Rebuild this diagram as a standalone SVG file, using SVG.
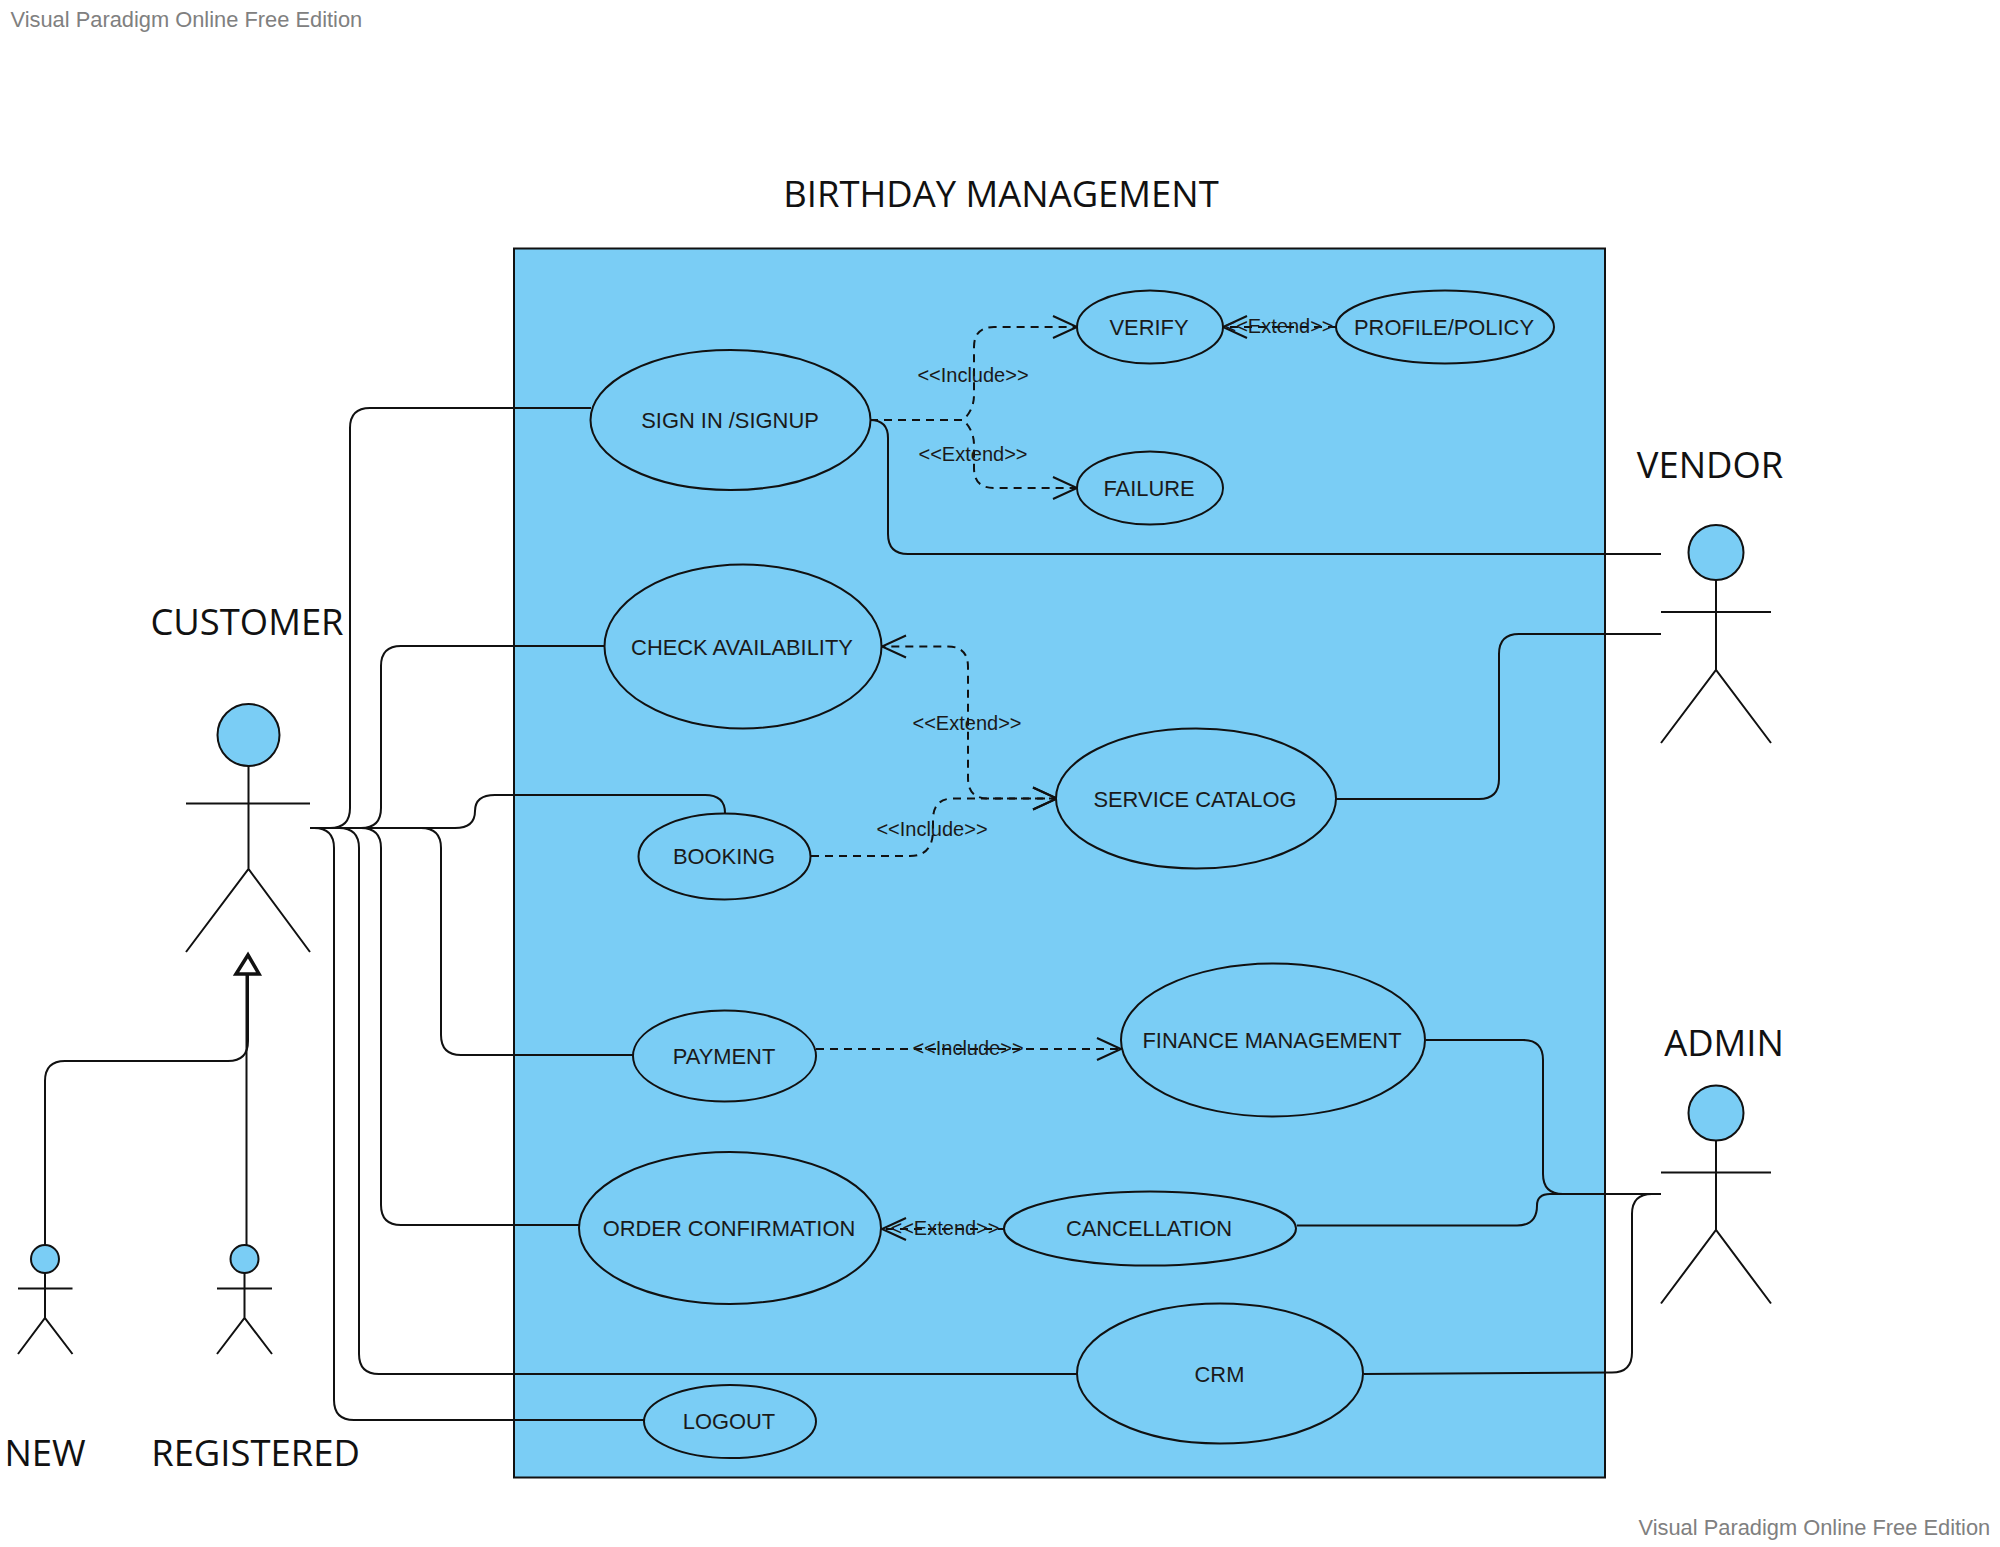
<svg xmlns="http://www.w3.org/2000/svg" width="2000" height="1547" viewBox="0 0 2000 1547">
<style>
.u{fill:#7acdf5;stroke:#111;stroke-width:2}
.l{fill:none;stroke:#111;stroke-width:2}
.d{fill:none;stroke:#111;stroke-width:2;stroke-dasharray:8 6}
.t{font-family:"Liberation Sans",Arial,sans-serif;font-size:21.900px;fill:#1a1a1a;text-anchor:middle;dominant-baseline:central}
.s{font-family:"Liberation Sans",Arial,sans-serif;font-size:20px;fill:#1a1a1a;text-anchor:middle;dominant-baseline:central}
.a{font-family:"Open Sans",sans-serif;font-size:36.400px;fill:#111;text-anchor:middle}
.w{font-family:"Liberation Sans",Arial,sans-serif;font-size:21.850px;fill:#808080}
</style>
<defs>
<marker id="o" markerUnits="userSpaceOnUse" markerWidth="30" markerHeight="30" refX="25" refY="13" orient="auto-start-reverse"><path d="M1,2 L25,13 L1,24" fill="none" stroke="#111" stroke-width="2"/></marker>
</defs>
<text class="w" x="10.500" y="26.500">Visual Paradigm Online Free Edition</text>
<text class="w" x="1638.500" y="1534.500">Visual Paradigm Online Free Edition</text>
<g id="system"><rect x="514" y="248.500" width="1091" height="1229" fill="#7acdf5" stroke="#111" stroke-width="2"/>
<text class="a" x="1001" y="207">BIRTHDAY MANAGEMENT</text></g>
<g id="connectors">
<path class="l" d="M310,828 H330 Q350,828 350,808 V428 Q350,408 370,408 H591"/>
<path class="l" d="M310,828 H361 Q381,828 381,808 V666 Q381,646 401,646 H605"/>
<path class="l" d="M310,828 H455 Q475,828 475,811 Q475,795 495,795 H705 Q725,795 725,813"/>
<path class="l" d="M310,828 H421 Q441,828 441,848 V1035 Q441,1055 461,1055 H633"/>
<path class="l" d="M310,828 H361 Q381,828 381,848 V1205 Q381,1225 401,1225 H579"/>
<path class="l" d="M310,828 H339 Q359,828 359,848 V1354 Q359,1374 379,1374 H1078"/>
<path class="l" d="M310,828 H314 Q334,828 334,848 V1400 Q334,1420 354,1420 H645"/>
<path class="l" d="M870,420 Q888,420 888,438 V534 Q888,554 908,554 H1661"/>
<path class="l" d="M1336,799 H1479 Q1499,799 1499,779 V654 Q1499,634 1519,634 H1661"/>
<path class="l" d="M1426,1040 H1523 Q1543,1040 1543,1060 V1174 Q1543,1194 1563,1194 H1661"/>
<path class="l" d="M1297,1225.500 H1517 Q1537,1225.500 1537,1205.500 Q1537,1194 1550,1194 H1661"/>
<path class="l" d="M1364,1374 L1612,1372.500 Q1632,1372.500 1632,1352.500 V1214 Q1632,1194 1652,1194 H1661"/>
<path class="l" d="M45,1245 V1081 Q45,1061 65,1061 H228 Q248,1061 248,1041 V974"/>
<path class="l" d="M246.500,1245 V974"/>
<path d="M248,955 L259,974 L236,974 Z" fill="#fff" stroke="#111" stroke-width="3.500"/>
<path class="d" d="M870,420 H963 Q974,410 974,395 V347 Q974,327 994,327 H1077" marker-end="url(#o)"/>
<path class="d" d="M870,420 H963 Q974,430 974,445 V468 Q974,488 994,488 H1077" marker-end="url(#o)"/>
<path class="d" d="M1336,327 H1223" marker-end="url(#o)"/>
<path class="d" d="M1057,798.500 H988 Q968,798.500 968,778 V667 Q968,646.500 948,646.500 H882" marker-start="url(#o)" marker-end="url(#o)"/>
<path class="d" d="M811,856 H910 Q933,856 933,830 V820 Q933,798.500 953,798.500 H1057" marker-end="url(#o)"/>
<path class="d" d="M816,1049 H1121" marker-end="url(#o)"/>
<path class="d" d="M1006,1229 H882" marker-end="url(#o)"/>
</g>
<g id="sign-in"><ellipse class="u" cx="730.500" cy="420" rx="140" ry="70"/><text class="t" x="730" y="420">SIGN IN /SIGNUP</text></g>
<g id="verify"><ellipse class="u" cx="1150" cy="327" rx="73" ry="36.500"/><text class="t" x="1149" y="327">VERIFY</text></g>
<g id="profile"><ellipse class="u" cx="1445" cy="327" rx="109" ry="36.500"/><text class="t" x="1444" y="327">PROFILE/POLICY</text></g>
<g id="failure"><ellipse class="u" cx="1150" cy="488" rx="73" ry="36.500"/><text class="t" x="1149" y="488">FAILURE</text></g>
<g id="check"><ellipse class="u" cx="743" cy="646.500" rx="138.500" ry="82"/><text class="t" x="742" y="647">CHECK AVAILABILITY</text></g>
<g id="service"><ellipse class="u" cx="1196" cy="798.500" rx="140" ry="70"/><text class="t" x="1195" y="799">SERVICE CATALOG</text></g>
<g id="booking"><ellipse class="u" cx="724.500" cy="856.500" rx="86" ry="43"/><text class="t" x="724" y="856.500">BOOKING</text></g>
<g id="payment"><ellipse class="u" cx="724.500" cy="1056" rx="91.500" ry="45.500"/><text class="t" x="724" y="1056">PAYMENT</text></g>
<g id="finance"><ellipse class="u" cx="1273" cy="1040" rx="152" ry="76.500"/><text class="t" x="1272" y="1040">FINANCE MANAGEMENT</text></g>
<g id="order"><ellipse class="u" cx="730" cy="1228" rx="151" ry="76"/><text class="t" x="729" y="1228">ORDER CONFIRMATION</text></g>
<g id="cancellation"><ellipse class="u" cx="1150" cy="1228.500" rx="146" ry="37"/><text class="t" x="1149" y="1228.500">CANCELLATION</text></g>
<g id="crm"><ellipse class="u" cx="1220" cy="1373.500" rx="143" ry="70"/><text class="t" x="1219.500" y="1374">CRM</text></g>
<g id="logout"><ellipse class="u" cx="730" cy="1421.500" rx="86" ry="36.500"/><text class="t" x="729" y="1421.500">LOGOUT</text></g>
<g id="labels">
<text class="s" x="973" y="375">&lt;&lt;Include&gt;&gt;</text>
<text class="s" x="973" y="454">&lt;&lt;Extend&gt;&gt;</text>
<text class="s" x="1279" y="326">&lt;&lt;Extend&gt;&gt;</text>
<text class="s" x="967" y="723">&lt;&lt;Extend&gt;&gt;</text>
<text class="s" x="932" y="828.500">&lt;&lt;Include&gt;&gt;</text>
<text class="s" x="968" y="1048">&lt;&lt;Include&gt;&gt;</text>
<text class="s" x="945" y="1228">&lt;&lt;Extend&gt;&gt;</text>
</g>
<g id="customer"><ellipse class="u" cx="248.500" cy="735" rx="31" ry="31"/><path class="l" d="M248.500,766 V869 M186,803.500 H310 M186,952 L248.500,869 L310,952"/><text class="a" x="247" y="635">CUSTOMER</text></g>
<g id="vendor"><ellipse class="u" cx="1716" cy="552.500" rx="27.500" ry="27.500"/><path class="l" d="M1716,580 V670 M1661,612 H1771 M1661,743 L1716,670 L1771,743"/><text class="a" x="1710" y="478">VENDOR</text></g>
<g id="admin"><ellipse class="u" cx="1716" cy="1113" rx="27.500" ry="27.500"/><path class="l" d="M1716,1140 V1230 M1661,1172.500 H1771 M1661,1303.500 L1716,1230 L1771,1303.500"/><text class="a" x="1724" y="1056">ADMIN</text></g>
<g id="new"><ellipse class="u" cx="45" cy="1259" rx="14" ry="14"/><path class="l" d="M45,1273 V1318 M18,1288.500 H72.500 M18,1354 L45,1318 L72.500,1354"/><text class="a" x="45" y="1466">NEW</text></g>
<g id="registered"><ellipse class="u" cx="244.500" cy="1259" rx="14" ry="14"/><path class="l" d="M244.500,1273 V1318 M217,1288.500 H272 M217,1354 L244.500,1318 L272,1354"/><text class="a" x="255.500" y="1466">REGISTERED</text></g>
</svg>
